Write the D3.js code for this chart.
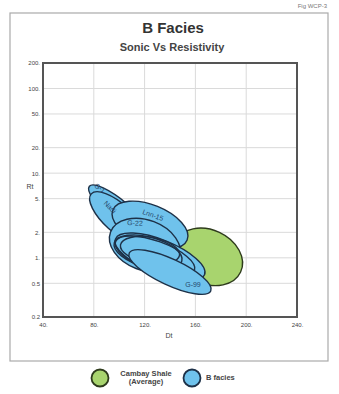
<!DOCTYPE html>
<html>
<head>
<meta charset="utf-8">
<script src="https://cdn.jsdelivr.net/npm/d3@7"></script>
<style>
  body { margin: 0; background: #fff; }
  svg { display: block; font-family: "Liberation Sans", Arial, sans-serif; }
</style>
</head>
<body>
<div id="chart"></div>
<script>
// tick values
let xTicks = [40, 80, 120, 160, 200, 240];
let yTicks = [0.2, 0.5, 1, 2, 5, 10, 20, 50, 100, 200];

// ellipses: major axis ends (Dt, Rt) and minor/major ratio
let blueNames = ["G-1", "Nadi", "Lnn-15", "G-22", "", "", "", "", "G-99"];
let blueDt1 = [76.5, 78.0, 95.0, 93.2, 96.1, 97.1, 101.0, 97.1, 107.9];
let blueRt1 = [7.0, 5.69, 3.67, 2.02, 1.50, 1.55, 1.42, 1.67, 1.14];
let blueDt2 = [124.7, 120.1, 153.5, 147.4, 149.3, 159.3, 147.5, 167.2, 172.1];
let blueRt2 = [1.73, 1.53, 1.62, 0.99, 0.915, 0.71, 1.07, 0.63, 0.406];
let blueRatio = [0.27, 0.39, 0.5, 0.68, 0.43, 0.357, 0.43, 0.354, 0.29];
// solid ellipses back to front, then the nested rings
let solidOrder = [0, 1, 2, 3];
let ringOrder = [7, 5, 4, 6];
let shaleDt = [144.3, 195.6];
let shaleRt = [1.55, 0.68];
let shaleRatio = 0.75;

// where each well name sits
let labelDt = [84.9, 92.8, 126.6, 112.4, null, null, null, null, 158.1];
let labelRt = [6.68, 3.98, 3.2, 2.58, null, null, null, null, 0.48];
let labelRot = [32, 45, 20, 3, 0, 0, 0, 0, 0];

let legendNames = [["Cambay Shale", "(Average)"], ["B facies"]];

let W = 339, H = 394;
let plotLeft = 43, plotTop = 63, size = 254;
let blueFill = "#6fc2ec", blueLine = "#1d3148";
let greenFill = "#a8d46e", greenLine = "#2e3b1c";

let svg = d3.select("#chart").append("svg")
  .attr("width", W)
  .attr("height", H);

// outer frame
svg.append("rect")
  .attr("x", 10).attr("y", 13)
  .attr("width", 318).attr("height", 348)
  .attr("fill", "none")
  .attr("stroke", "#aaa")
  .attr("stroke-width", 1.2);

svg.append("text")
  .attr("x", 327).attr("y", 8)
  .attr("text-anchor", "end")
  .attr("font-size", 6)
  .attr("fill", "#777")
  .text("Fig WCP-3");

svg.append("text")
  .attr("x", 173).attr("y", 33)
  .attr("text-anchor", "middle")
  .attr("font-size", 15)
  .attr("font-weight", "bold")
  .attr("fill", "#333")
  .text("B Facies");

svg.append("text")
  .attr("x", 172).attr("y", 51)
  .attr("text-anchor", "middle")
  .attr("font-size", 11)
  .attr("font-weight", "bold")
  .attr("fill", "#444")
  .text("Sonic Vs Resistivity");

let x = d3.scaleLinear().domain([40, 240]).range([plotLeft, plotLeft + size]);
let y = d3.scaleLog().domain([0.2, 200]).range([plotTop + size, plotTop]);

let plot = svg.append("g");

// grid
plot.selectAll("line.gx")
  .data(xTicks)
  .enter()
  .append("line")
  .attr("x1", function(d) { return x(d); })
  .attr("x2", function(d) { return x(d); })
  .attr("y1", plotTop).attr("y2", plotTop + size)
  .attr("stroke", "#dadada")
  .attr("stroke-width", 1);

plot.selectAll("line.gy")
  .data(yTicks)
  .enter()
  .append("line")
  .attr("y1", function(d) { return y(d); })
  .attr("y2", function(d) { return y(d); })
  .attr("x1", plotLeft).attr("x2", plotLeft + size)
  .attr("stroke", "#dadada")
  .attr("stroke-width", 1);

function ellipse(g, dt1, rt1, dt2, rt2, ratio, fill, line) {
  let x1 = x(dt1), y1 = y(rt1), x2 = x(dt2), y2 = y(rt2);
  let cx = (x1 + x2) / 2, cy = (y1 + y2) / 2;
  let a = Math.hypot(x2 - x1, y2 - y1) / 2;
  let ang = Math.atan2(y2 - y1, x2 - x1) * 180 / Math.PI;
  g.append("ellipse")
    .attr("cx", 0).attr("cy", 0)
    .attr("rx", a).attr("ry", a * ratio)
    .attr("transform", "translate(" + cx + "," + cy + ") rotate(" + ang + ")")
    .attr("fill", fill)
    .attr("stroke", line)
    .attr("stroke-width", 1.4);
}

function blue(g, i, fill, line) {
  ellipse(g, blueDt1[i], blueRt1[i], blueDt2[i], blueRt2[i], blueRatio[i], fill, line);
}

let shapes = plot.append("g");
ellipse(shapes, shaleDt[0], shaleRt[0], shaleDt[1], shaleRt[1], shaleRatio, greenFill, greenLine);

solidOrder.forEach(function(i) { blue(shapes, i, blueFill, blueLine); });
ringOrder.forEach(function(i) { blue(shapes, i, blueFill, "none"); });
ringOrder.forEach(function(i) { blue(shapes, i, "none", blueLine); });
blue(shapes, 8, blueFill, blueLine);

plot.selectAll("text.well")
  .data(d3.range(blueNames.length).filter(function(i) { return blueNames[i]; }))
  .enter()
  .append("text")
  .attr("transform", function(i) {
    return "translate(" + x(labelDt[i]) + "," + y(labelRt[i]) + ") rotate(" + labelRot[i] + ")";
  })
  .attr("text-anchor", "middle")
  .attr("dy", "0.35em")
  .attr("font-size", 7)
  .attr("fill", "#25466b")
  .text(function(i) { return blueNames[i]; });

// plot border
plot.append("rect")
  .attr("x", plotLeft).attr("y", plotTop)
  .attr("width", size).attr("height", size)
  .attr("fill", "none")
  .attr("stroke", "#555")
  .attr("stroke-width", 2);

// axes
let xAxis = d3.axisBottom(x)
  .tickValues(xTicks)
  .tickSize(0)
  .tickPadding(6)
  .tickFormat(function(d) { return d + "."; });
let yAxis = d3.axisLeft(y)
  .tickValues(yTicks)
  .tickSize(0)
  .tickPadding(3)
  .tickFormat(function(d) { return d < 1 ? String(d) : d + "."; });

let gx = svg.append("g").attr("transform", "translate(0," + (plotTop + size) + ")").call(xAxis);
let gy = svg.append("g").attr("transform", "translate(" + plotLeft + ",0)").call(yAxis);
[gx, gy].forEach(function(g) {
  g.select(".domain").remove();
  g.selectAll("text")
    .attr("font-size", 6)
    .attr("font-family", "Liberation Sans, Arial, sans-serif")
    .attr("fill", "#444");
});

svg.append("text")
  .attr("x", 30).attr("y", 189)
  .attr("text-anchor", "middle")
  .attr("font-size", 7)
  .attr("fill", "#444")
  .text("Rt");

svg.append("text")
  .attr("x", 169).attr("y", 338)
  .attr("text-anchor", "middle")
  .attr("font-size", 7)
  .attr("fill", "#444")
  .text("Dt");

// legend
let legend = svg.append("g");
let legendX = [100, 192];
let legendFill = [greenFill, blueFill];
let legendLine = [greenLine, blueLine];
legendNames.forEach(function(names, i) {
  legend.append("circle")
    .attr("cx", legendX[i]).attr("cy", 378)
    .attr("r", 8.5)
    .attr("fill", legendFill[i])
    .attr("stroke", legendLine[i])
    .attr("stroke-width", 1.8);
  names.forEach(function(t, j) {
    legend.append("text")
      .attr("x", i == 0 ? legendX[i] + 46 : legendX[i] + 14)
      .attr("y", names.length == 1 ? 380 : 376 + j * 8)
      .attr("text-anchor", i == 0 ? "middle" : "start")
      .attr("font-size", 7.5)
      .attr("font-weight", "bold")
      .attr("fill", "#444")
      .text(t);
  });
});
</script>
</body>
</html>
